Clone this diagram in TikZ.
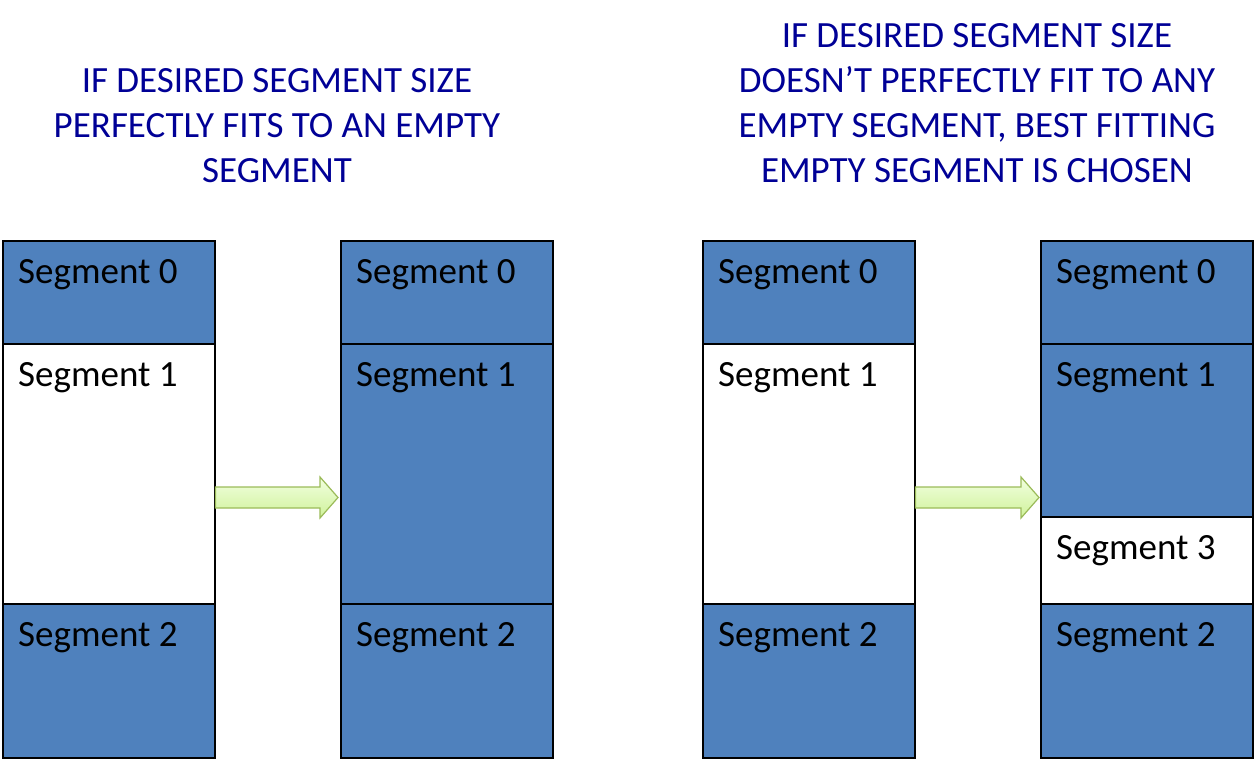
\documentclass[tikz,border=0pt]{standalone}
\usepackage{fontspec}
\setmainfont{Carlito}
\usetikzlibrary{calc}
\definecolor{segblue}{HTML}{4F81BD}
\definecolor{titleblue}{RGB}{0,0,150}
\definecolor{arrowedge}{HTML}{9BBB59}
\definecolor{arrowtop}{HTML}{F2FFE0}
\definecolor{arrowbot}{HTML}{CFF29A}
\begin{document}
\begin{tikzpicture}[x=1pt,y=-1pt,
  segbox/.style={draw=black, line width=1.5pt, minimum width=212pt, inner sep=0pt, anchor=north west},
  full/.style={segbox, fill=segblue},
  empty/.style={segbox, fill=white},
  segtext/.style={font=\fontsize{37}{44}\selectfont, anchor=base west, inner sep=0pt, text=black},
  titletext/.style={font=\fontsize{37}{44}\selectfont, anchor=base, inner sep=0pt, text=titleblue},
  fatarrow/.style={draw=arrowedge, line width=1.2pt, line join=miter, top color=arrowtop, bottom color=arrowbot}
]
\path[use as bounding box] (0,0) rectangle (1255,761);

% titles
\node[titletext] (tl1) at (277,92) {IF DESIRED SEGMENT SIZE};
\node[titletext] (tl2) at (277,137) {PERFECTLY FITS TO AN EMPTY};
\node[titletext] (tl3) at (277,182) {SEGMENT};
\node[titletext] (tr1) at (977,47) {IF DESIRED SEGMENT SIZE};
\node[titletext] (tr2) at (977,92) {DOESN’T PERFECTLY FIT TO ANY};
\node[titletext] (tr3) at (977,137) {EMPTY SEGMENT, BEST FITTING};
\node[titletext] (tr4) at (977,182) {EMPTY SEGMENT IS CHOSEN};

% column A
\node[full,  minimum height=103pt] (a0) at (2,240) {};
\node[empty, minimum height=260pt] (a1) at (2,343) {};
\node[full,  minimum height=154pt] (a2) at (2,603) {};
% column B
\node[full, minimum height=103pt] (b0) at (340,240) {};
\node[full, minimum height=260pt] (b1) at (340,343) {};
\node[full, minimum height=154pt] (b2) at (340,603) {};
% column C
\node[full,  minimum height=103pt] (c0) at (702,240) {};
\node[empty, minimum height=260pt] (c1) at (702,343) {};
\node[full,  minimum height=154pt] (c2) at (702,603) {};
% column D
\node[full,  minimum height=103pt] (d0) at (1040,240) {};
\node[full,  minimum height=173pt] (d1) at (1040,343) {};
\node[empty, minimum height=87pt]  (d3) at (1040,516) {};
\node[full,  minimum height=154pt] (d2) at (1040,603) {};

% labels
\foreach \b/\t in {a0/Segment 0, a1/Segment 1, a2/Segment 2,
                   b0/Segment 0, b1/Segment 1, b2/Segment 2,
                   c0/Segment 0, c1/Segment 1, c2/Segment 2,
                   d0/Segment 0, d1/Segment 1, d3/Segment 3, d2/Segment 2}
  \node[segtext] (\b t) at ($(\b.north west)+(16,43)$) {\t};

% arrows
\coordinate (s1) at ($(a1.north east)+(0,154.5)$);
\coordinate (e1) at ($(b1.north west)+(-2,154.5)$);
\coordinate (s2) at ($(c1.north east)+(0,154.5)$);
\coordinate (e2) at ($(d1.north west)+(-1,154.5)$);
\foreach \s/\e in {s1/e1, s2/e2}
  \path[fatarrow] ($(\s)+(0,-10.5)$) -- ($(\e)+(-18,-10.5)$) -- ($(\e)+(-18,-20.5)$)
    -- (\e) -- ($(\e)+(-18,20.5)$) -- ($(\e)+(-18,10.5)$) -- ($(\s)+(0,10.5)$) -- cycle;
\end{tikzpicture}
\end{document}
